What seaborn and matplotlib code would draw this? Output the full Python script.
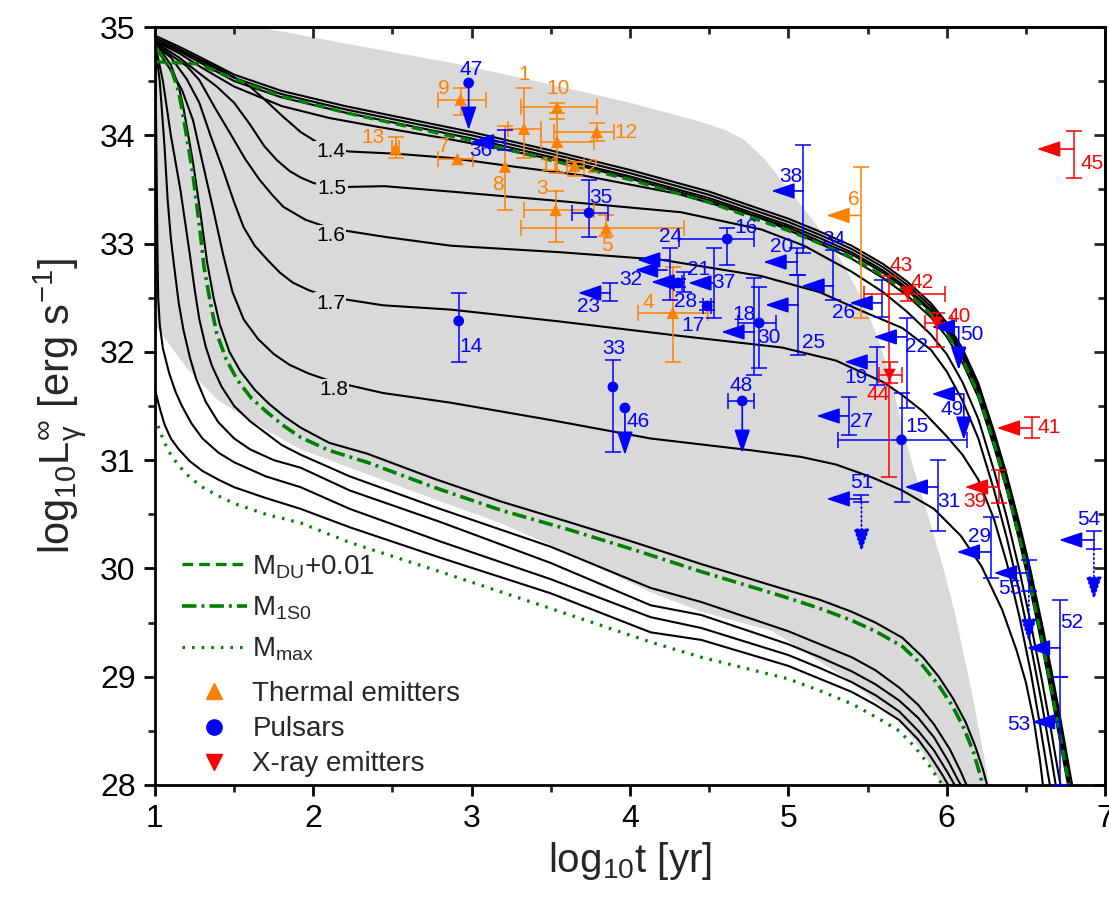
import matplotlib
matplotlib.use('Agg')
import matplotlib.pyplot as plt
import pandas as pd
import seaborn as sns
from matplotlib.lines import Line2D
from matplotlib.ticker import MultipleLocator

sns.set_theme(style='ticks')
plt.rcParams['font.family'] = ['Liberation Sans', 'DejaVu Sans']
plt.rcParams['mathtext.fontset'] = 'custom'
plt.rcParams['mathtext.rm'] = 'Liberation Sans'
plt.rcParams['mathtext.it'] = 'Liberation Sans:italic'
plt.rcParams['mathtext.bf'] = 'Liberation Sans:bold'

# ---------------- cooling curves (log t [yr], log L [erg/s]) ----------------
t_10 = [1.0, 1.15, 1.3, 1.5, 1.8, 2.2, 2.6, 3.0, 3.5, 4.0, 4.5, 5.0, 5.2, 5.4, 5.6, 5.75, 5.9, 6.0, 6.1, 6.2, 6.3, 6.38, 6.46, 6.53, 6.6, 6.66, 6.71, 6.75, 6.79, 6.81]
L_10 = [34.92, 34.82, 34.71, 34.56, 34.41, 34.27, 34.15, 34.03, 33.86, 33.68, 33.48, 33.23, 33.11, 32.98, 32.81, 32.65, 32.45, 32.27, 32.03, 31.71, 31.26, 30.86, 30.41, 29.98, 29.5, 29.07, 28.68, 28.35, 28.02, 27.88]
t_11 = [1.0, 1.15, 1.3, 1.5, 1.8, 2.2, 2.6, 3.0, 3.5, 4.0, 4.5, 5.0, 5.2, 5.4, 5.6, 5.75, 5.9, 6.0, 6.1, 6.2, 6.3, 6.38, 6.46, 6.53, 6.6, 6.66, 6.71, 6.75, 6.79]
L_11 = [34.9, 34.8, 34.68, 34.53, 34.38, 34.24, 34.12, 34.0, 33.83, 33.65, 33.45, 33.2, 33.08, 32.95, 32.78, 32.62, 32.42, 32.24, 32.0, 31.68, 31.22, 30.82, 30.36, 29.92, 29.44, 29.0, 28.6, 28.26, 27.92]
t_12 = [1.0, 1.15, 1.3, 1.5, 1.8, 2.2, 2.6, 3.0, 3.5, 4.0, 4.5, 5.0, 5.2, 5.4, 5.6, 5.75, 5.9, 6.0, 6.1, 6.2, 6.3, 6.38, 6.46, 6.53, 6.6, 6.66, 6.71, 6.75, 6.79]
L_12 = [34.88, 34.78, 34.66, 34.5, 34.35, 34.21, 34.09, 33.97, 33.8, 33.62, 33.42, 33.17, 33.05, 32.92, 32.75, 32.59, 32.39, 32.21, 31.98, 31.66, 31.19, 30.79, 30.33, 29.88, 29.39, 28.94, 28.54, 28.19, 27.85]
t_13 = [1.0, 1.15, 1.3, 1.5, 1.8, 2.1, 2.4, 2.8, 3.2, 3.6, 4.0, 4.5, 5.0, 5.2, 5.4, 5.6, 5.75, 5.9, 6.0, 6.1, 6.2, 6.3, 6.38, 6.46, 6.53, 6.6, 6.66, 6.71, 6.75, 6.79]
L_13 = [34.87, 34.76, 34.62, 34.45, 34.27, 34.16, 34.08, 33.98, 33.87, 33.75, 33.6, 33.4, 33.15, 33.02, 32.9, 32.73, 32.57, 32.37, 32.19, 31.95, 31.63, 31.17, 30.77, 30.31, 29.87, 29.39, 28.95, 28.55, 28.21, 27.87]
t_14 = [1.0, 1.2, 1.4, 1.6, 1.7, 1.81, 1.92, 2.03, 2.13, 2.23, 2.52, 2.87, 3.27, 3.7, 4.3, 4.8, 5.2, 5.4, 5.6, 5.75, 5.9, 6.0, 6.1, 6.2, 6.3, 6.38, 6.46, 6.53, 6.6, 6.66, 6.71, 6.76, 6.78]
L_14 = [34.87, 34.76, 34.62, 34.45, 34.32, 34.17, 34.03, 33.93, 33.87, 33.85, 33.83, 33.79, 33.71, 33.63, 33.46, 33.25, 33.0, 32.86, 32.68, 32.52, 32.32, 32.14, 31.9, 31.58, 31.12, 30.72, 30.25, 29.8, 29.3, 28.85, 28.45, 28.05, 27.9]
t_15 = [1.0, 1.15, 1.3, 1.39, 1.5, 1.6, 1.69, 1.77, 1.85, 1.92, 2.0, 2.11, 2.45, 2.87, 3.5, 4.32, 4.83, 5.1, 5.4, 5.6, 5.75, 5.9, 6.0, 6.1, 6.2, 6.3, 6.38, 6.46, 6.53, 6.6, 6.66, 6.71, 6.74]
L_15 = [34.86, 34.72, 34.55, 34.45, 34.3, 34.1, 33.9, 33.77, 33.67, 33.61, 33.56, 33.52, 33.53, 33.48, 33.4, 33.29, 33.13, 32.98, 32.74, 32.55, 32.37, 32.16, 31.98, 31.72, 31.38, 30.9, 30.47, 29.98, 29.5, 28.98, 28.5, 28.07, 27.85]
t_16 = [1.0, 1.1, 1.2, 1.28, 1.38, 1.49, 1.57, 1.66, 1.74, 1.81, 1.95, 2.11, 2.46, 2.87, 3.56, 4.2, 4.83, 5.2, 5.46, 5.72, 5.9, 6.0, 6.1, 6.2, 6.3, 6.38, 6.46, 6.53, 6.6, 6.66, 6.7]
L_16 = [34.85, 34.74, 34.64, 34.51, 34.25, 33.98, 33.78, 33.59, 33.45, 33.34, 33.22, 33.14, 33.06, 32.98, 32.92, 32.85, 32.7, 32.55, 32.38, 32.22, 32.02, 31.82, 31.55, 31.2, 30.72, 30.28, 29.78, 29.3, 28.76, 28.26, 27.9]
t_17 = [1.0, 1.1, 1.2, 1.28, 1.35, 1.43, 1.5, 1.56, 1.63, 1.71, 1.79, 1.87, 1.97, 2.09, 2.44, 2.87, 3.56, 4.3, 4.96, 5.3, 5.6, 5.72, 5.85, 6.0, 6.1, 6.2, 6.3, 6.38, 6.46, 6.53, 6.59, 6.64, 6.67]
L_17 = [34.83, 34.72, 34.52, 34.3, 34.0, 33.68, 33.38, 33.15, 32.98, 32.85, 32.73, 32.64, 32.57, 32.51, 32.43, 32.39, 32.28, 32.15, 32.04, 31.92, 31.72, 31.6, 31.45, 31.22, 31.05, 30.82, 30.45, 30.05, 29.55, 29.05, 28.55, 28.1, 27.85]
t_18 = [1.0, 1.1, 1.17, 1.24, 1.3, 1.37, 1.43, 1.49, 1.56, 1.65, 1.75, 1.85, 1.97, 2.11, 2.44, 2.87, 3.5, 4.13, 4.77, 5.08, 5.3, 5.53, 5.72, 5.92, 6.09, 6.22, 6.35, 6.44, 6.5, 6.55, 6.59, 6.62]
L_18 = [34.82, 34.6, 34.42, 34.14, 33.75, 33.3, 32.9, 32.55, 32.3, 32.12, 31.98, 31.88, 31.8, 31.73, 31.62, 31.53, 31.37, 31.2, 31.09, 31.03, 30.96, 30.84, 30.72, 30.55, 30.3, 30.02, 29.62, 29.25, 28.95, 28.6, 28.22, 27.85]
t_185 = [1.0, 1.1, 1.15, 1.18, 1.21, 1.24, 1.27, 1.29, 1.33, 1.37, 1.41, 1.47, 1.54, 1.63, 1.72, 1.82, 1.92, 2.1, 2.34, 2.76, 3.18, 3.61, 4.03, 4.45, 4.97, 5.2, 5.4, 5.55, 5.72, 5.85, 5.95, 6.04, 6.12, 6.18, 6.23, 6.27]
L_185 = [34.86, 34.65, 34.45, 34.25, 34.0, 33.75, 33.45, 33.25, 32.82, 32.5, 32.25, 32.0, 31.82, 31.65, 31.52, 31.4, 31.3, 31.16, 31.06, 30.83, 30.62, 30.43, 30.24, 30.04, 29.81, 29.71, 29.6, 29.5, 29.36, 29.18, 29.0, 28.8, 28.58, 28.36, 28.14, 27.92]
t_L1 = [1.0, 1.05, 1.1, 1.13, 1.16, 1.19, 1.22, 1.25, 1.28, 1.32, 1.36, 1.42, 1.5, 1.6, 1.7, 1.8, 1.92, 2.23, 2.8, 3.5, 4.13, 4.45, 5.0, 5.2, 5.4, 5.55, 5.7, 5.82, 5.92, 6.02, 6.09, 6.14]
L_L1 = [34.85, 34.5, 34.0, 33.75, 33.5, 33.2, 32.9, 32.58, 32.3, 32.05, 31.87, 31.68, 31.5, 31.36, 31.25, 31.14, 31.05, 30.85, 30.55, 30.2, 29.82, 29.69, 29.42, 29.3, 29.18, 29.06, 28.9, 28.74, 28.56, 28.33, 28.12, 27.95]
t_L2 = [1.0, 1.03, 1.06, 1.08, 1.1, 1.12, 1.15, 1.18, 1.22, 1.26, 1.32, 1.4, 1.5, 1.6, 1.75, 1.92, 2.23, 2.8, 3.5, 4.13, 4.45, 5.0, 5.2, 5.4, 5.55, 5.7, 5.82, 5.92, 6.01, 6.07, 6.11]
L_L2 = [34.85, 34.5, 33.9, 33.4, 33.05, 32.8, 32.45, 32.2, 31.95, 31.75, 31.54, 31.35, 31.2, 31.1, 31.0, 30.93, 30.72, 30.43, 30.05, 29.66, 29.57, 29.3, 29.18, 29.05, 28.93, 28.78, 28.62, 28.44, 28.22, 28.05, 27.95]
t_L3 = [1.0, 1.008, 1.015, 1.02, 1.03, 1.05, 1.09, 1.13, 1.17, 1.23, 1.3, 1.4, 1.5, 1.7, 1.92, 2.23, 2.8, 3.5, 4.13, 4.45, 5.0, 5.2, 5.4, 5.55, 5.7, 5.82, 5.92, 6.0, 6.07]
L_L3 = [34.85, 34.0, 33.0, 32.5, 32.25, 32.03, 31.8, 31.63, 31.5, 31.34, 31.2, 31.07, 30.98, 30.85, 30.75, 30.55, 30.25, 29.9, 29.55, 29.45, 29.2, 29.08, 28.95, 28.83, 28.68, 28.5, 28.32, 28.13, 27.95]
t_L4 = [1.0, 1.03, 1.06, 1.1, 1.15, 1.22, 1.3, 1.4, 1.5, 1.7, 1.92, 2.23, 2.8, 3.5, 4.13, 4.45, 5.0, 5.2, 5.4, 5.55, 5.7, 5.82, 5.9, 5.97, 6.03]
L_L4 = [31.65, 31.48, 31.33, 31.2, 31.1, 30.99, 30.9, 30.82, 30.75, 30.65, 30.55, 30.38, 30.1, 29.77, 29.41, 29.34, 29.1, 28.98, 28.86, 28.74, 28.6, 28.42, 28.26, 28.1, 27.95]

# green model curves
t_du = [1.0, 1.27, 1.5, 1.8, 2.2, 2.6, 3.0, 3.5, 4.0, 4.5, 5.0, 5.2, 5.4, 5.6, 5.75, 5.9, 6.0, 6.1, 6.2, 6.3, 6.38, 6.46, 6.53, 6.6, 6.66, 6.71, 6.76, 6.79]
L_du = [34.68, 34.66, 34.52, 34.36, 34.21, 34.08, 33.95, 33.77, 33.59, 33.38, 33.12, 33.0, 32.87, 32.7, 32.55, 32.35, 32.17, 31.93, 31.61, 31.15, 30.75, 30.28, 29.84, 29.35, 28.9, 28.5, 28.1, 27.85]
t_1s0 = [1.0, 1.06, 1.11, 1.15, 1.18, 1.21, 1.24, 1.28, 1.31, 1.35, 1.39, 1.45, 1.52, 1.61, 1.71, 1.81, 1.92, 2.1, 2.34, 2.76, 3.18, 3.61, 4.03, 4.45, 4.97, 5.2, 5.4, 5.55, 5.72, 5.85, 5.95, 6.04, 6.11, 6.17, 6.21, 6.24]
L_1s0 = [34.82, 34.7, 34.58, 34.4, 34.16, 33.9, 33.63, 33.17, 32.78, 32.45, 32.17, 31.93, 31.74, 31.57, 31.44, 31.32, 31.21, 31.09, 30.98, 30.75, 30.54, 30.36, 30.17, 29.97, 29.74, 29.63, 29.52, 29.42, 29.28, 29.1, 28.92, 28.72, 28.52, 28.3, 28.1, 27.93]
t_max = [1.0, 1.03, 1.06, 1.1, 1.15, 1.22, 1.3, 1.4, 1.5, 1.7, 1.92, 2.23, 2.8, 3.5, 4.13, 4.45, 5.0, 5.2, 5.4, 5.55, 5.7, 5.8, 5.88, 5.95, 6.0]
L_max = [31.4, 31.27, 31.16, 31.05, 30.95, 30.84, 30.75, 30.67, 30.6, 30.5, 30.42, 30.24, 29.97, 29.63, 29.32, 29.18, 28.98, 28.87, 28.75, 28.63, 28.5, 28.35, 28.2, 28.05, 27.95]

# grey band outline
band_t = [1.0, 1.65, 2.23, 2.87, 3.5, 4.0, 4.41, 4.6, 4.72, 4.85, 4.96, 5.1, 5.25, 5.36, 5.46, 5.56, 5.65, 5.72, 5.8, 5.89, 5.97, 6.05, 6.16, 6.27,
          5.97, 5.95, 5.85, 5.7, 5.4, 4.9, 4.45, 4.13, 3.6, 3.18, 2.8, 2.23, 1.92, 1.7, 1.4, 1.2, 1.0]
band_L = [35.0, 35.0, 34.84, 34.67, 34.47, 34.3, 34.14, 34.05, 33.96, 33.78, 33.58, 33.32, 33.03, 32.78, 32.5, 32.15, 31.75, 31.3, 30.88, 30.45, 30.05, 29.6, 28.85, 28.0,
          28.0, 28.05, 28.3, 28.6, 28.95, 29.42, 29.6, 29.78, 30.15, 30.42, 30.62, 30.93, 31.1, 31.28, 31.55, 31.85, 32.25]

curve_mass_labels = ['1.4', '1.5', '1.6', '1.7', '1.8']

# ---------------- observations ----------------
# thermal emitters (orange, triangles)
th_id = [1, 2, 3, 4, 5, 7, 8, 9, 10, 11, 12, 13]
th_t = [3.33, 3.65, 3.53, 4.27, 3.85, 2.91, 3.21, 2.93, 3.54, 3.54, 3.79, 2.52]
th_L = [34.06, 33.72, 33.31, 32.36, 33.14, 33.78, 33.71, 34.33, 34.26, 33.94, 34.03, 33.88]
th_tlo = [3.23, 3.60, 3.33, 4.05, 3.31, 2.79, None, 2.79, 3.31, 3.44, 3.52, 2.50]
th_thi = [3.44, 3.71, 3.77, 4.49, 4.34, 3.01, None, 3.09, 3.79, 3.77, 3.90, 2.54]
th_Llo = [33.79, 33.62, 33.01, 31.91, 33.07, None, 33.31, 34.19, 34.15, 33.65, 33.95, 33.79]
th_Lhi = [34.44, 33.75, 33.49, 32.78, 33.26, None, 34.09, 34.44, 34.30, 34.21, 34.11, 33.98]
# thermal emitter with age upper limit
th6_id, th6_t, th6_tend, th6_L, th6_Llo, th6_Lhi = 6, 5.46, 5.24, 33.26, 32.31, 33.71

# pulsars (blue circles)
ps_id = [14, 15, 16, 17, 18, 28, 33, 35]
ps_t = [2.918, 5.715, 4.614, 4.487, 4.816, 4.304, 3.892, 3.741]
ps_L = [32.285, 31.187, 33.042, 32.424, 32.267, 32.636, 31.676, 33.283]
ps_tlo = [None, 5.316, 4.310, 4.46, 4.684, 4.28, None, 3.633]
ps_thi = [None, 6.127, 4.785, 4.51, 4.924, 4.33, None, 3.861]
ps_Llo = [31.907, 30.614, 32.802, 32.39, 31.851, 32.60, 31.076, 33.061]
ps_Lhi = [32.544, 31.620, 33.144, 32.46, 32.599, 32.67, 31.925, 33.587]
# pulsars with luminosity upper limit
ul_id = [46, 47, 48]
ul_t = [3.968, 2.981, 4.709]
ul_L = [31.482, 34.483, 31.547]
ul_Lend = [31.048, 34.049, 31.066]
ul_tlo = [None, None, 4.620]
ul_thi = [None, None, 4.785]
# pulsars with age upper limit
ag_id = [19, 20, 21, 22, 23, 24, 25, 26, 27, 29, 30, 31, 32, 34, 36, 37, 38, 52, 53]
ag_t = [5.557, 5.057, 4.342, 5.747, 3.873, 4.253, 5.063, 5.589, 5.380, 6.278, 4.785, 5.943, 4.234, 5.285, 3.209, 4.532, 5.095, 6.715, 6.715]
ag_tend = [5.354, 4.842, 4.133, 5.538, 3.671, 4.044, 4.854, 5.386, 5.177, 6.063, 4.576, 5.734, 4.03, 5.082, 2.994, 4.367, 4.892, 6.506, 6.538]
ag_L = [31.907, 32.830, 32.645, 32.138, 32.544, 32.849, 32.433, 32.452, 31.408, 30.152, 32.184, 30.752, 32.756, 32.609, 33.94, 32.636, 33.486, 29.266, 28.583]
ag_Llo = [31.694, 32.710, 32.553, 31.482, 32.470, 32.479, 31.971, 32.322, 31.233, 29.912, 31.787, 30.346, None, 32.479, 33.86, 32.313, 32.913, 28.998, 28.0]
ag_Lhi = [32.045, 32.959, 32.738, 32.313, 32.636, 32.959, 32.710, 32.664, 31.584, 30.476, 32.682, 31.002, None, 32.941, 34.05, 32.959, 33.910, 29.709, 28.998]
# pulsars with both limits
bl_id = [49, 50, 51, 54, 55]
bl_t = [6.108, 6.076, 5.462, 6.930, 6.519]
bl_tend = [5.905, 5.905, 5.241, 6.709, 6.297]
bl_L = [31.611, 32.230, 30.642, 30.263, 29.958]
bl_Lend = [31.187, 31.833, 30.152, 29.709, 29.321]
bl_Llo = [None, None, 30.61, 30.18, 29.79]
bl_Lhi = [None, None, 30.68, 30.35, 30.08]
bl_dotted = [False, False, True, True, True]

# X-ray emitters (red, down triangles)
xr_id = [40, 42, 44]
xr_t = [5.937, 5.753, 5.639]
xr_L = [32.267, 32.535, 31.787]
xr_tlo = [5.861, 5.481, 5.570]
xr_thi = [6.032, 5.987, 5.715]
xr_Llo = [32.045, 32.47, 31.713]
xr_Lhi = [32.359, 32.60, 31.907]
xr43_t, xr43_Llo, xr43_Lhi = 5.633, 30.845, 32.701
xa_id = [39, 41, 45]
xa_t = [6.329, 6.538, 6.804]
xa_tend = [6.114, 6.316, 6.570]
xa_L = [30.752, 31.297, 33.873]
xa_Llo = [30.605, 31.205, 33.606]
xa_Lhi = [30.910, 31.399, 34.040]

# ---------------- layout (text positions) ----------------
mass_label_pos = [(2.108, 33.846), (2.12, 33.51), (2.108, 33.07), (2.108, 32.45), (2.127, 31.65)]
label_pos = {
    1: (3.329, 34.557), 2: (3.766, 33.707), 3: (3.443, 33.513), 4: (4.114, 32.452), 5: (3.854, 32.978),
    6: (5.411, 33.403), 7: (2.823, 33.892), 8: (3.165, 33.541), 9: (2.823, 34.428), 10: (3.544, 34.428),
    11: (3.494, 33.717), 12: (3.975, 34.030), 13: (2.380, 33.975),
    14: (2.994, 32.054), 15: (5.810, 31.307), 16: (4.734, 33.144), 17: (4.399, 32.248), 18: (4.722, 32.341),
    19: (5.430, 31.759), 20: (4.956, 32.969), 21: (4.430, 32.756), 22: (5.810, 32.045), 23: (3.741, 32.415),
    24: (4.259, 33.061), 25: (5.158, 32.091), 26: (5.348, 32.368), 27: (5.462, 31.353), 28: (4.354, 32.461),
    29: (6.209, 30.291), 30: (4.880, 32.128), 31: (6.013, 30.614), 32: (4.006, 32.664), 33: (3.899, 32.027),
    34: (5.285, 33.033), 35: (3.816, 33.430), 36: (3.057, 33.864), 37: (4.595, 32.645), 38: (5.019, 33.615),
    39: (6.177, 30.614), 40: (6.082, 32.322), 41: (6.646, 31.297), 42: (5.842, 32.636), 43: (5.715, 32.802),
    44: (5.570, 31.602), 45: (6.918, 33.744), 46: (4.051, 31.353), 47: (2.994, 34.603), 48: (4.703, 31.685),
    49: (6.032, 31.464), 50: (6.158, 32.156), 51: (5.462, 30.789), 52: (6.791, 29.497), 53: (6.456, 28.555),
    54: (6.899, 30.448), 55: (6.399, 29.811),
}

ORANGE = '#FF8000'
BLUE = '#0000FF'
RED = '#FF0000'
GREEN = '#008000'
GREY = '#d9d9d9'
DASH_DU = (0, (3.2, 1.8))
DASH_1S0 = (0, (4, 1.4, 0.8, 1.4))
DOT_MAX = (0, (0.8, 2.2))

fig = plt.figure(figsize=(11.09, 8.98), dpi=100)
ax = fig.add_axes([155 / 1109, 1 - 785 / 898, 950 / 1109, 758 / 898])

ax.fill(band_t, band_L, color=GREY, lw=0, zorder=0)

black = []
for name, tt, LL in [('1.0', t_10, L_10), ('1.1', t_11, L_11), ('1.2', t_12, L_12), ('1.3', t_13, L_13),
                     ('1.4', t_14, L_14), ('1.5', t_15, L_15), ('1.6', t_16, L_16), ('1.7', t_17, L_17),
                     ('1.8', t_18, L_18), ('1.85', t_185, L_185), ('L1', t_L1, L_L1), ('L2', t_L2, L_L2),
                     ('L3', t_L3, L_L3), ('L4', t_L4, L_L4)]:
    black.append(pd.DataFrame({'t': tt, 'L': LL, 'curve': name}))
black = pd.concat(black, ignore_index=True)
sns.lineplot(data=black, x='t', y='L', units='curve', estimator=None, sort=False,
             color='black', linewidth=1.5, ax=ax, legend=False, zorder=2)

sns.lineplot(x=t_du, y=L_du, sort=False, estimator=None, color=GREEN, linewidth=2.4,
             linestyle=DASH_DU, ax=ax, zorder=2.1)
sns.lineplot(x=t_1s0, y=L_1s0, sort=False, estimator=None, color=GREEN, linewidth=2.6,
             linestyle=DASH_1S0, ax=ax, zorder=2.1)
sns.lineplot(x=t_max, y=L_max, sort=False, estimator=None, color=GREEN, linewidth=2.3,
             linestyle=DOT_MAX, ax=ax, zorder=2.1)

for lab, (px, py) in zip(curve_mass_labels, mass_label_pos):
    ax.text(px, py, lab, fontsize=15, ha='center', va='center', color='black', zorder=2.5,
            bbox=dict(facecolor=GREY, edgecolor='none', pad=1.0))

EB = dict(fmt='none', elinewidth=1.1, capsize=6, capthick=1.1, zorder=3)


def vbar(x, lo, hi, c):
    if lo is None:
        return
    ax.errorbar([x], [(lo + hi) / 2], yerr=[[(hi - lo) / 2]], ecolor=c, **EB)


def hbar(y, lo, hi, c):
    if lo is None:
        return
    ax.errorbar([(lo + hi) / 2], [y], xerr=[[(hi - lo) / 2]], ecolor=c, **EB)


def arrow(x0, y0, x1, y1, c, ls='-'):
    ax.annotate('', xy=(x1, y1), xytext=(x0, y0), zorder=3.5,
                arrowprops=dict(arrowstyle='-|>,head_length=0.8,head_width=0.27', mutation_scale=18,
                                color=c, lw=1.2, shrinkA=0, shrinkB=0, linestyle=ls))


def label(i, c):
    x, y = label_pos[i]
    ax.text(x, y, str(i), color=c, fontsize=15, ha='center', va='center', zorder=6)


# thermal
for i, t, L, a, b, lo, hi in zip(th_id, th_t, th_L, th_tlo, th_thi, th_Llo, th_Lhi):
    hbar(L, a, b, ORANGE)
    vbar(t, lo, hi, ORANGE)
    label(i, ORANGE)
sns.scatterplot(x=th_t, y=th_L, marker='^', s=80, color=ORANGE, edgecolor='none', ax=ax, zorder=4)
vbar(th6_t, th6_Llo, th6_Lhi, ORANGE)
arrow(th6_t, th6_L, th6_tend, th6_L, ORANGE)
label(th6_id, ORANGE)

# pulsars
for i, t, L, a, b, lo, hi in zip(ps_id, ps_t, ps_L, ps_tlo, ps_thi, ps_Llo, ps_Lhi):
    hbar(L, a, b, BLUE)
    vbar(t, lo, hi, BLUE)
    label(i, BLUE)
for i, t, L, Le, a, b in zip(ul_id, ul_t, ul_L, ul_Lend, ul_tlo, ul_thi):
    hbar(L, a, b, BLUE)
    arrow(t, L, t, Le, BLUE)
    label(i, BLUE)
sns.scatterplot(x=ps_t + ul_t, y=ps_L + ul_L, marker='o', s=60, color=BLUE, edgecolor='none', ax=ax, zorder=4)
for i, t, te, L, lo, hi in zip(ag_id, ag_t, ag_tend, ag_L, ag_Llo, ag_Lhi):
    vbar(t, lo, hi, BLUE)
    arrow(t, L, te, L, BLUE)
    label(i, BLUE)
for i, t, te, L, Le, lo, hi, dot in zip(bl_id, bl_t, bl_tend, bl_L, bl_Lend, bl_Llo, bl_Lhi, bl_dotted):
    vbar(t, lo, hi, BLUE)
    arrow(t, L, te, L, BLUE)
    arrow(t, (L if lo is None else lo), t, Le, BLUE, ls=':' if dot else '-')
    label(i, BLUE)

# X-ray emitters
for i, t, L, a, b, lo, hi in zip(xr_id, xr_t, xr_L, xr_tlo, xr_thi, xr_Llo, xr_Lhi):
    hbar(L, a, b, RED)
    vbar(t, lo, hi, RED)
    label(i, RED)
sns.scatterplot(x=xr_t, y=xr_L, marker='v', s=80, color=RED, edgecolor='none', ax=ax, zorder=4)
vbar(xr43_t, xr43_Llo, xr43_Lhi, RED)
label(43, RED)
for i, t, te, L, lo, hi in zip(xa_id, xa_t, xa_tend, xa_L, xa_Llo, xa_Lhi):
    vbar(t, lo, hi, RED)
    arrow(t, L, te, L, RED)
    label(i, RED)

# axes
ax.set_xlim(1, 7)
ax.set_ylim(28, 35)
for a in (ax.xaxis, ax.yaxis):
    a.set_major_locator(MultipleLocator(1))
    a.set_minor_locator(MultipleLocator(0.5))
ax.tick_params(which='major', direction='out', length=8, width=2, labelsize=23, colors='black', pad=6)
ax.tick_params(which='minor', direction='out', length=5, width=2)
ax.tick_params(top=False, right=False)
for s in ax.spines.values():
    s.set_linewidth(2)
    s.set_color('black')
secx = ax.secondary_xaxis('top')
secx.xaxis.set_major_locator(MultipleLocator(1))
secx.xaxis.set_minor_locator(MultipleLocator(0.5))
secx.tick_params(which='major', direction='in', length=8, width=2, labeltop=False)
secx.tick_params(which='minor', direction='in', length=5, width=2)
secx.spines['top'].set_linewidth(2)
secy = ax.secondary_yaxis('right')
secy.yaxis.set_major_locator(MultipleLocator(1))
secy.yaxis.set_minor_locator(MultipleLocator(0.5))
secy.tick_params(which='major', direction='in', length=8, width=2, labelright=False)
secy.tick_params(which='minor', direction='in', length=5, width=2)
secy.spines['right'].set_linewidth(2)

ax.set_xlabel(r'log$_{10}$t [yr]', fontsize=29, labelpad=4)
ax.set_ylabel(r'log$_{10}$L$_{\mathrm{\gamma}}^{\infty}$ [erg s$^{-1}$]', fontsize=30, labelpad=8)

h1 = [Line2D([], [], color=GREEN, lw=2.4, ls=DASH_DU),
      Line2D([], [], color=GREEN, lw=2.6, ls=DASH_1S0),
      Line2D([], [], color=GREEN, lw=2.3, ls=DOT_MAX)]
l1 = ax.legend(h1, [r'M$_{\mathregular{DU}}$+0.01', r'M$_{\mathregular{1S0}}$', r'M$_{\mathregular{max}}$'],
               loc='upper left', bbox_to_anchor=(0.028, 0.306), frameon=False, fontsize=20,
               handlelength=2.35, handletextpad=0.2, labelspacing=0.5, borderpad=0, borderaxespad=0)
ax.add_artist(l1)
h2 = [Line2D([], [], color=ORANGE, marker='^', ls='none', ms=12),
      Line2D([], [], color=BLUE, marker='o', ls='none', ms=11),
      Line2D([], [], color=RED, marker='v', ls='none', ms=12)]
ax.legend(h2, ['Thermal emitters', 'Pulsars', 'X-ray emitters'], loc='upper left',
          bbox_to_anchor=(0.028, 0.137), frameon=False, fontsize=20, handlelength=2.35,
          handletextpad=0.2, labelspacing=0.33, borderpad=0, borderaxespad=0)

fig.savefig('out.png', dpi=100)
